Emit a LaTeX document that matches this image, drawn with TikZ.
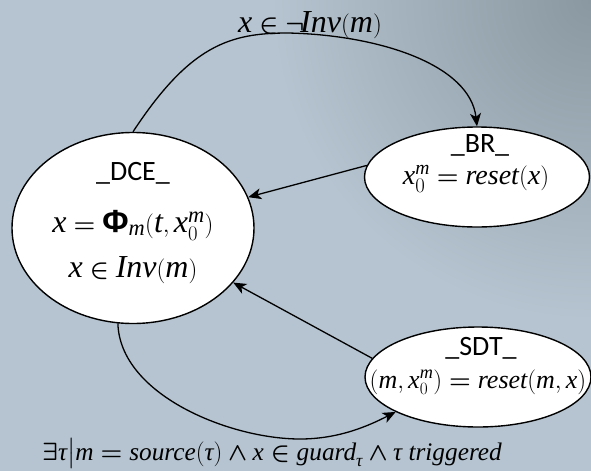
\documentclass[tikz,border=0pt]{standalone}
\usepackage{amsmath}
\usepackage{fontspec}
\setmainfont{Liberation Serif}
\setsansfont{Liberation Sans}
\newfontfamily\labelfont{Carlito}
\newfontfamily\serifit{Liberation Serif}
\newcommand\mv[1]{\text{\serifit\itshape #1}}
\newcommand\bPhi{\text{\sffamily\bfseries Φ}}
\newcommand\isin{\mathrel{\boldsymbol{\in}}}
\newcommand\aand{\mathbin{\boldsymbol{\wedge}}}
\newcommand\exi{\boldsymbol{\exists}}
\newcommand\nott{\boldsymbol{\neg}}
\newcommand\eqq{\mathrel{\boldsymbol{=}}}
\usetikzlibrary{shapes.geometric,arrows.meta}
\definecolor{bgbase}{RGB}{181,196,208}
\definecolor{bgdark}{RGB}{138,152,161}
\begin{document}
\begin{tikzpicture}[x=1pt,y=-1pt,
  state/.style={ellipse,draw=black,fill=white,line width=1.4pt,inner sep=0pt},
  conn/.style={line width=1.3pt,-{Stealth[length=13pt,width=11pt,inset=3.5pt]}},
  title/.style={font=\labelfont\fontsize{28}{30}\selectfont,anchor=base,inner sep=0pt},
  eq/.style={font=\fontsize{32}{34}\selectfont,anchor=base,inner sep=0pt},
  eqm/.style={font=\fontsize{28}{30}\selectfont,anchor=base,inner sep=0pt},
  eqs/.style={font=\fontsize{26}{28}\selectfont,anchor=base,inner sep=0pt},
  eqb/.style={font=\fontsize{25.3}{27}\selectfont,anchor=base,inner sep=0pt}]
\useasboundingbox (0,0) rectangle (591,471);
\fill[bgbase] (0,0) rectangle (591,471);
\begin{scope}
  \clip (0,0) rectangle (591,471);
  \shade[inner color=bgdark, outer color=bgbase] (591,0) circle (320);
\end{scope}

\node[state,minimum width=242pt,minimum height=191pt] (DCE) at (133,228) {};
\node[state,minimum width=225pt,minimum height=100pt] (BR) at (477,177) {};
\node[state,minimum width=226pt,minimum height=100pt] (SDT) at (478,377) {};

\node[title] (DCEt) at (133,180) {\_DCE\_};
\node[eq] (DCEa) at (133,232) {$\mv{x}\eqq\bPhi_{\mv{m}}(\mv{t},\mv{x}_0^{\mv{m}})$};
\node[eq] (DCEb) at (133,277) {$\mv{x}\isin \mv{Inv}(\mv{m})$};

\node[title] (BRt) at (480,152) {\_BR\_};
\node[eqm] (BRa) at (476,184) {$\mv{x}_0^{\mv{m}}\eqq\mv{reset}(\mv{x})$};

\node[title] (SDTt) at (481,355) {\_SDT\_};
\node[eqs] (SDTa) at (478,388) {$(\mv{m},\mv{x}_0^{\mv{m}})\eqq\mv{reset}(\mv{m},\mv{x})$};

\node[eq] (toplabel) at (310,32) {$\mv{x}\isin\nott\!\mv{Inv}(\mv{m})$};
\node[eqb] (botlabel) at (272,460) {$\exi\mv{τ}\big|\mv{m}\eqq\mv{source}(\mv{τ})\aand \mv{x}\isin \mv{guard}_{\mv{τ}}\aand\mv{τ}\ \mv{triggered}$};

\coordinate (peak) at (288,33);
\coordinate (low) at (300,439);
\draw[conn] (DCE.north) .. controls (190,45) and (230,33) .. (peak)
  .. controls (380,35) and (470,65) .. (BR.north);
\draw[conn] (BR.174) -- (DCE);
\draw[conn] (SDT.170) -- (DCE);
\draw[conn] (DCE.261) .. controls (120,395) and (230,439) .. (low)
  .. controls (340,439) and (370,425) .. (SDT.203);
\end{tikzpicture}
\end{document}
